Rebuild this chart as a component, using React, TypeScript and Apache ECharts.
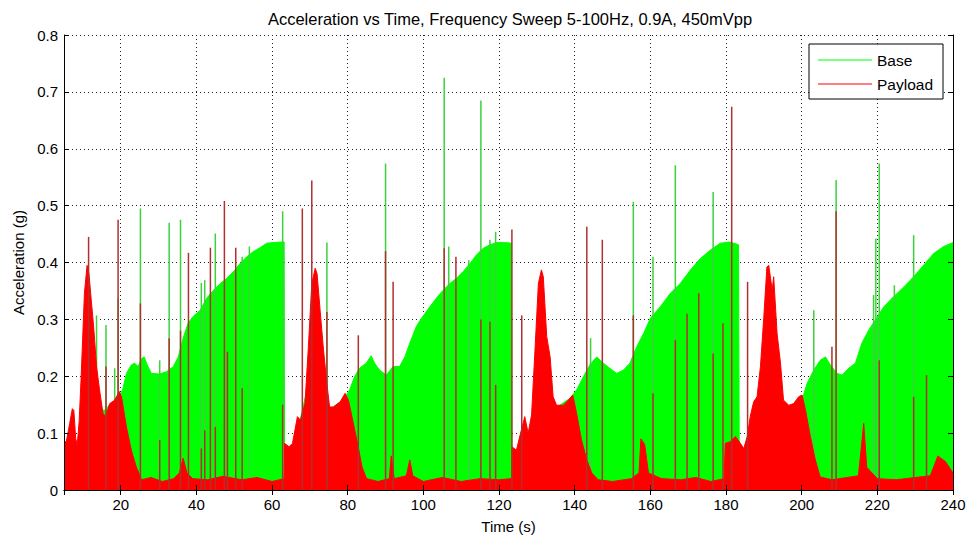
import React, { useEffect, useRef } from "react";
import * as echarts from "echarts";

const FONT = "'Liberation Sans', Arial, Helvetica, sans-serif";

const chartTitle = "Acceleration vs Time, Frequency Sweep 5-100Hz, 0.9A, 450mVpp";
const seriesNames = ["Base", "Payload"];

// Upper envelope of the Base signal (time s, acceleration g)
const baseEnvelope: [number, number][] = [
  [5, 0.05], [8.5, 0.06], [10, 0.15], [12, 0.2], [13.6, 0.16], [14.4, 0.13], [15.3, 0.14], [16, 0.141],
  [17, 0.15], [18.5, 0.155], [19.5, 0.165], [20.5, 0.176], [21.5, 0.205], [22.8, 0.22], [23.7, 0.223],
  [24.6, 0.217], [25.5, 0.231], [26.2, 0.234], [27, 0.22], [28.1, 0.205], [30.3, 0.204], [32.1, 0.208],
  [33.9, 0.217], [35.2, 0.234], [36.5, 0.267], [37.8, 0.293], [39.1, 0.305], [41, 0.316], [42.7, 0.337],
  [44.5, 0.351], [46.3, 0.363], [48, 0.372], [49.8, 0.384], [51.5, 0.398], [53.3, 0.41], [55, 0.419],
  [56.8, 0.426], [58.6, 0.434], [60.3, 0.435], [62.5, 0.436], [63.2, 0.436], [63.3, 0.06], [66, 0.08],
  [70, 0.2], [75, 0.14], [79, 0.16], [80.5, 0.176], [81.8, 0.199], [83.1, 0.214], [84.9, 0.223],
  [86.2, 0.236], [87.1, 0.223], [88.4, 0.211], [90.2, 0.202], [92, 0.217], [93.7, 0.217], [95.1, 0.234],
  [96.4, 0.258], [98.1, 0.287], [99.5, 0.302], [101.7, 0.322], [103.4, 0.337], [105.2, 0.351], [107, 0.363],
  [108.7, 0.372], [110.5, 0.384], [112.3, 0.398], [114, 0.413], [115.8, 0.425], [117.6, 0.431],
  [119.3, 0.435], [121.5, 0.435], [123.3, 0.434], [123.4, 0.055], [128.6, 0.09], [130.5, 0.2], [134, 0.14],
  [138.7, 0.161], [140.5, 0.176], [142.3, 0.199], [144, 0.22], [145.8, 0.234], [147.6, 0.223],
  [149.3, 0.214], [151.1, 0.205], [152.9, 0.211], [154.6, 0.223], [156.4, 0.252], [158.2, 0.275],
  [160, 0.302], [162.6, 0.322], [165.3, 0.346], [167.9, 0.363], [170.6, 0.387], [173.2, 0.407],
  [175.9, 0.422], [178.5, 0.434], [181.1, 0.436], [183.3, 0.431], [183.5, 0.055], [188, 0.1], [190, 0.2],
  [196, 0.14], [200.5, 0.167], [201.4, 0.187], [203.2, 0.211], [204.9, 0.228], [206.3, 0.234],
  [207.6, 0.22], [209.3, 0.205], [210.7, 0.202], [212.4, 0.214], [214.2, 0.223], [215.9, 0.258],
  [217.7, 0.281], [219.5, 0.299], [221.7, 0.322], [224.3, 0.34], [227, 0.357], [229.6, 0.375],
  [232.2, 0.395], [234.9, 0.416], [237.5, 0.428], [240, 0.435],
];

// Upper envelope of the Payload signal
const payloadEnvelope: [number, number][] = [
  [5, 0.085], [5.6, 0.085], [6.5, 0.117], [7.2, 0.143], [7.6, 0.14], [8.1, 0.09], [8.5, 0.08], [9, 0.12],
  [9.5, 0.193], [10.4, 0.346], [11.1, 0.395], [11.6, 0.38], [12.2, 0.334], [12.8, 0.29], [13.6, 0.217],
  [14.4, 0.176], [15.3, 0.135], [16, 0.129], [17.1, 0.152], [18.4, 0.158], [19.6, 0.173], [20.2, 0.164],
  [21.5, 0.111], [22.8, 0.07], [24.1, 0.041], [25.5, 0.018], [28, 0.022], [31, 0.015], [34, 0.02],
  [35.5, 0.03], [36.5, 0.056], [37.5, 0.03], [39, 0.02], [43, 0.018], [47, 0.024], [52, 0.018], [56, 0.022],
  [60, 0.015], [63.2, 0.02], [63.3, 0.082], [64.5, 0.076], [65.4, 0.082], [66.7, 0.129], [67.5, 0.123],
  [68.7, 0.152], [69.6, 0.252], [70.5, 0.363], [71.4, 0.39], [71.9, 0.38], [72.7, 0.316], [73.6, 0.246],
  [74.5, 0.187], [75.2, 0.146], [76.2, 0.146], [78, 0.155], [79.3, 0.17], [80.2, 0.158], [81.5, 0.117],
  [82.8, 0.075], [83.8, 0.04], [85, 0.02], [88, 0.015], [91, 0.02], [91.5, 0.06], [92.3, 0.02],
  [95.5, 0.025], [96.4, 0.053], [97.2, 0.025], [100, 0.015], [105, 0.022], [110, 0.015], [115, 0.02],
  [120, 0.018], [123.3, 0.02], [123.4, 0.076], [124.6, 0.07], [125.5, 0.095], [126.8, 0.129], [127.7, 0.1],
  [128.6, 0.132], [129.5, 0.246], [130.4, 0.363], [131.2, 0.387], [131.7, 0.375], [132.6, 0.27],
  [133.5, 0.234], [134.3, 0.164], [135.2, 0.149], [137, 0.149], [138.3, 0.158], [139.5, 0.167],
  [140.5, 0.135], [141.8, 0.088], [143.2, 0.053], [144.5, 0.03], [146.2, 0.018], [150, 0.015], [155, 0.02],
  [157, 0.03], [157.5, 0.09], [158.5, 0.08], [159.5, 0.03], [163, 0.02], [168, 0.018], [172, 0.022],
  [176, 0.015], [179.5, 0.02], [179.8, 0.082], [181.1, 0.085], [182.5, 0.094], [183.8, 0.082],
  [184.7, 0.073], [185.6, 0.094], [186.4, 0.129], [187.3, 0.155], [188.2, 0.164], [189.1, 0.217],
  [190, 0.305], [190.8, 0.392], [191.3, 0.395], [192.2, 0.351], [192.6, 0.375], [193.5, 0.275],
  [194.4, 0.223], [195.2, 0.158], [196.6, 0.149], [197.9, 0.152], [199.2, 0.164], [200.1, 0.167],
  [201, 0.141], [202.3, 0.094], [203.6, 0.053], [204.9, 0.023], [208, 0.018], [212, 0.022], [215, 0.025],
  [216.4, 0.117], [217.2, 0.04], [220, 0.02], [225, 0.018], [230, 0.022], [234, 0.025], [236, 0.06],
  [238, 0.05], [240, 0.03],
];

// Isolated spikes (time s, peak g)
const baseSpikes: [number, number][] = [
  [13.6, 0.307], [16.1, 0.29], [18.4, 0.214], [19.3, 0.337], [25.2, 0.495], [30.3, 0.228], [32.8, 0.47],
  [35.8, 0.475], [41.3, 0.364], [42.2, 0.369], [45, 0.451], [52.1, 0.41], [54, 0.428], [62.8, 0.49],
  [74.5, 0.435], [90, 0.574], [105.5, 0.725], [106.7, 0.428], [112, 0.404], [115.2, 0.685], [117.6, 0.44],
  [119.1, 0.454], [144.2, 0.267], [155.5, 0.507], [160.7, 0.41], [166.6, 0.571], [176.6, 0.524],
  [203.2, 0.316], [209.1, 0.545], [219, 0.343], [219.6, 0.442], [220.5, 0.574], [224.5, 0.36], [229.6, 0.448],
];

const payloadSpikes: [number, number][] = [
  [11.5, 0.445], [16.1, 0.217], [19.3, 0.475], [25.2, 0.328], [30.3, 0.088], [32.8, 0.267], [35.8, 0.28],
  [37.9, 0.417], [41.3, 0.073], [42.2, 0.105], [43.7, 0.426], [45, 0.111], [47.4, 0.508], [48.2, 0.243],
  [50.4, 0.426], [52.1, 0.179], [62.8, 0.15], [68, 0.495], [70.5, 0.544], [74.5, 0.313], [82.8, 0.272],
  [90, 0.42], [92, 0.366], [105.5, 0.425], [108.6, 0.41], [115.2, 0.3], [117.6, 0.296], [119.1, 0.185],
  [123.4, 0.458], [126, 0.307], [143.2, 0.463], [147.3, 0.44], [155.5, 0.307], [160.7, 0.17], [166.6, 0.264],
  [169.7, 0.31], [172.8, 0.346], [176.6, 0.24], [179.2, 0.293], [181.5, 0.674], [185.7, 0.366],
  [208, 0.252], [209.1, 0.49], [220.5, 0.228], [229.6, 0.164], [233, 0.202],
];

const X_MIN = 5;
const X_MAX = 240;
const Y_MIN = 0;
const Y_MAX = 0.8;
const Y_STEP = 0.1;

const GREEN = "#00ff00";
const RED = "#ff0000";

export default function App() {
  const ref = useRef<HTMLDivElement>(null);

  useEffect(() => {
    if (!ref.current) return;
    const chart = echarts.init(ref.current, undefined, { renderer: "svg" });
    const txt = { color: "#000", fontFamily: FONT };
    const dotted = { type: [1, 3] as any, color: "#222", width: 1 };
    const frameLine = { show: true, lineStyle: { color: "#000", width: 1 } };
    const tick = { show: true, inside: true, length: 5, lineStyle: { color: "#000" } };

    chart.setOption({
      animation: false,
      backgroundColor: "#fff",
      title: {
        text: chartTitle,
        left: 505,
        top: 5,
        textAlign: "center",
        textStyle: { ...txt, fontSize: 16.5, fontWeight: "normal" },
      },
      legend: {
        data: seriesNames.map((n) => ({ name: n, icon: "rect" })),
        orient: "vertical",
        left: 809,
        top: 44,
        padding: [8, 10, 7, 9],
        itemWidth: 54,
        itemHeight: 1.2,
        itemGap: 8,
        backgroundColor: "#fff",
        borderColor: "#000",
        borderWidth: 1,
        borderRadius: 0,
        z: 20,
        textStyle: { ...txt, fontSize: 15.5, lineHeight: 16 },
      },
      grid: { left: 64, right: 16, top: 35, bottom: 49 },
      xAxis: [
        {
          type: "value", min: X_MIN, max: X_MAX, splitNumber: 12, position: "bottom", z: 10,
          axisLine: frameLine, axisTick: tick,
          axisLabel: { ...txt, fontSize: 15, margin: 7, showMinLabel: false },
          splitLine: { show: false },
          name: "Time (s)", nameLocation: "middle", nameGap: 29,
          nameTextStyle: { ...txt, fontSize: 15 },
        },
        {
          type: "value", min: X_MIN, max: X_MAX, splitNumber: 12, position: "top",
          axisLine: frameLine, axisTick: tick, axisLabel: { show: false },
          splitLine: { show: true, lineStyle: dotted },
        },
      ],
      yAxis: [
        {
          type: "value", min: Y_MIN, max: Y_MAX, interval: Y_STEP, position: "left", z: 10,
          axisLine: frameLine, axisTick: tick,
          axisLabel: { ...txt, fontSize: 15, margin: 6 },
          splitLine: { show: false },
          name: "Acceleration (g)", nameLocation: "middle", nameGap: 35,
          nameTextStyle: { ...txt, fontSize: 15 },
        },
        {
          type: "value", min: Y_MIN, max: Y_MAX, interval: Y_STEP, position: "right", z: 10,
          axisLine: frameLine, axisTick: tick, axisLabel: { show: false },
          splitLine: { show: false },
        },
        {
          type: "value", min: Y_MIN, max: Y_MAX, interval: Y_STEP, position: "left",
          axisLine: { show: false }, axisTick: { show: false }, axisLabel: { show: false },
          splitLine: { show: true, lineStyle: dotted },
        },
      ],
      series: [
        {
          name: "Base", type: "line", data: baseEnvelope, symbol: "none", z: 2,
          lineStyle: { color: GREEN, width: 1 }, itemStyle: { color: GREEN },
          areaStyle: { color: GREEN, opacity: 1 },
        },
        {
          name: "Base spikes", type: "bar", data: baseSpikes, barWidth: 1.5, barGap: "-100%", z: 3,
          itemStyle: { color: "#3cd23c" },
        },
        {
          name: "Payload", type: "line", data: payloadEnvelope, symbol: "none", z: 4,
          lineStyle: { color: RED, width: 1 }, itemStyle: { color: RED },
          areaStyle: { color: RED, opacity: 1 },
        },
        {
          name: "Payload spikes", type: "bar", data: payloadSpikes, barWidth: 1.5, barGap: "-100%", z: 5,
          itemStyle: { color: "#b03030" },
        },
      ],
    });
    return () => chart.dispose();
  }, []);

  return (
    <div
      ref={ref}
      style={{ position: "fixed", left: 0, top: 0, width: 969, height: 539, background: "#fff" }}
    />
  );
}
